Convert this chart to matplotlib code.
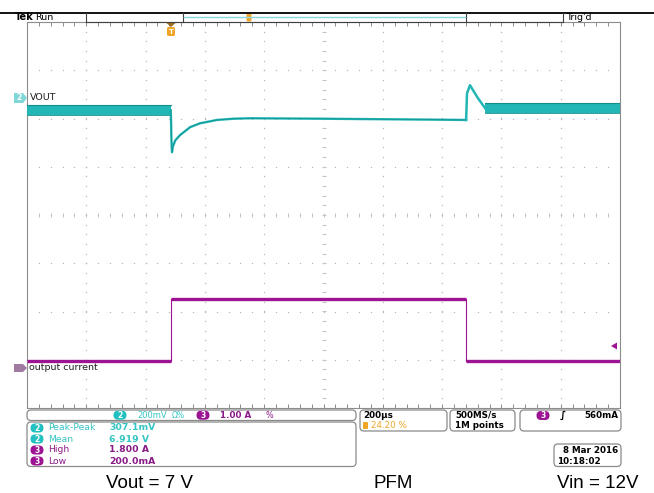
import numpy as np
import matplotlib
matplotlib.use("Agg")
import matplotlib.pyplot as plt
from matplotlib.patches import FancyBboxPatch, Polygon

# -----------------------------
# Scope settings / data
# -----------------------------
t_span = 2000.0          # 200 us/div, 10 div
n_vdiv = 8

# channel 2 : VOUT, 200 mV/div
ch2_scale = 0.2
ch2_ref_volts = 7.0
ch2_ref_div = 2.42

vout_pre_t = [0, 485]
vout_pre_v = [6.950, 6.950]
vout_ripple = 0.021
vout_dip_t = [485, 486, 487, 489, 492, 500, 516, 550, 583, 641, 695, 752, 1000, 1300, 1481]
vout_dip_v = [6.950, 6.900, 6.830, 6.776, 6.800, 6.825, 6.847, 6.880, 6.896, 6.910, 6.915, 6.917, 6.915, 6.912, 6.910]
vout_spike_t = [1481, 1484, 1494, 1521, 1545]
vout_spike_v = [6.910, 7.020, 7.054, 7.000, 6.959]
vout_post_t = [1545, 2000]
vout_post_v = [6.959, 6.959]

# channel 3 : output current, 1.00 A/div
ch3_scale = 1.0
ch3_ref_div = -3.17
iout_bounds = [0, 486, 1481, 2000]
iout_levels = [0.15, 1.43, 0.15]

trig_pos = 484          # 24.20 %

meas_names = ["Peak-Peak", "Mean", "High", "Low"]
meas_values = ["307.1mV", "6.919 V", "1.800 A", "200.0mA"]
meas_chan = ["2", "2", "3", "3"]

captions = ["Vout = 7 V", "PFM", "Vin = 12V"]

CYAN = "#22b6b6"
CYAN_DK = "#128e8e"
CYAN_TXT = "#35c4c4"
PURPLE = "#9c1394"
PURPLE_TXT = "#8a1a88"
ORANGE = "#f0a529"
GRID = "#b8b8b8"
EDGE = "#8c8c8c"


def v2div(v):
    return ch2_ref_div + (np.asarray(v) - ch2_ref_volts) / ch2_scale


def a2div(a):
    return ch3_ref_div + np.asarray(a) / ch3_scale


W, H = 654, 493
fig = plt.figure(figsize=(W / 100, H / 100), dpi=100)

# graticule area in pixels
gx0, gx1, gy0, gy1 = 27, 620, 22, 408
ax = fig.add_axes([gx0 / W, 1 - gy1 / H, (gx1 - gx0) / W, (gy1 - gy0) / H])
ax.set_xlim(0, t_span)
ax.set_ylim(-n_vdiv / 2, n_vdiv / 2)
ax.set_xticks([])
ax.set_yticks([])
for s in ax.spines.values():
    s.set_color(EDGE)
    s.set_linewidth(0.8)

# dotted grid
dx = t_span / 50
dy = 0.2
for k in range(1, 10):
    ys = np.arange(-4, 4.001, dy)
    ax.plot(np.full_like(ys, k * 200), ys, ls="none", marker="s", ms=0.9,
            color=GRID, mew=0)
for j in range(-3, 4):
    xs = np.arange(0, t_span + 1, dx)
    ax.plot(xs, np.full_like(xs, j), ls="none", marker="s", ms=0.9,
            color=GRID, mew=0)
# centre cross ticks
xs = np.arange(0, t_span + 1, dx)
ax.plot(xs, np.zeros_like(xs), ls="none", marker="|", ms=3, color="#c4c4c4", mew=0.7)
ys = np.arange(-4, 4.001, dy)
ax.plot(np.full_like(ys, 1000), ys, ls="none", marker="_", ms=3, color="#c4c4c4", mew=0.7)
# border ticks
ax.plot(np.zeros_like(ys), ys, ls="none", marker=0, ms=3, color=EDGE, mew=0.7)
ax.plot(np.full_like(ys, t_span), ys, ls="none", marker=1, ms=3, color=EDGE, mew=0.7)
ax.plot(xs, np.full_like(xs, -4), ls="none", marker=2, ms=3, color=EDGE, mew=0.7)
ax.plot(xs, np.full_like(xs, 4), ls="none", marker=3, ms=3, color=EDGE, mew=0.7)

# channel 2 trace
for tt, vv in [(vout_pre_t, vout_pre_v), (vout_post_t, vout_post_v)]:
    c = v2div(vv)
    ax.fill_between(tt, c - vout_ripple / ch2_scale, c + vout_ripple / ch2_scale,
                    color=CYAN, lw=0, zorder=3)
    ax.plot(tt, c + vout_ripple / ch2_scale, color=CYAN_DK, lw=0.8, zorder=3)
    ax.plot(tt, c - vout_ripple / ch2_scale, color=CYAN_DK, lw=0.6, zorder=3)
ax.plot(vout_dip_t, v2div(vout_dip_v), color=CYAN, lw=1.7, zorder=3)
ax.plot(vout_dip_t, v2div(vout_dip_v), color=CYAN_DK, lw=0.5, zorder=3)
ax.plot(vout_spike_t, v2div(vout_spike_v), color=CYAN, lw=1.8, zorder=3)

# channel 3 trace
for i, lvl in enumerate(iout_levels):
    ax.plot(iout_bounds[i:i + 2], a2div([lvl, lvl]), color=PURPLE, lw=2.4,
            solid_capstyle="butt", zorder=3)
for i in range(1, len(iout_levels)):
    ax.plot([iout_bounds[i]] * 2, a2div([iout_levels[i - 1], iout_levels[i]]),
            color=PURPLE, lw=0.8, zorder=3)

# -----------------------------
# Decorations in pixel space
# -----------------------------
d = fig.add_axes([0, 0, 1, 1], zorder=5)
d.set_xlim(0, W)
d.set_ylim(H, 0)
d.axis("off")
d.patch.set_alpha(0)

FS = 6.3
d.plot([0, W], [13, 13], color="black", lw=1.3)
d.text(15, 17.5, "Tek", fontsize=7, fontweight="bold", va="center")
d.text(35, 17.5, "Run", fontsize=6.8, va="center")
d.plot([86, 563], [22, 22], color="#404040", lw=0.8)
for xx in [86, 183, 466, 563]:
    d.plot([xx, xx], [12.5, 22], color="#404040", lw=0.8)
d.plot([184, 465], [17, 17], color="#8ad6de", lw=1.0)
d.text(566, 17.5, "Trig'd", fontsize=6.8, va="center")
d.add_patch(FancyBboxPatch((246.5, 13.5), 5, 8, boxstyle="round,pad=0,rounding_size=1.5",
                           fc=ORANGE, ec="none"))
# trigger position marker
d.add_patch(Polygon([[166.5, 23], [175.5, 23], [171, 27]], closed=True, fc="#9a6a20", ec="none"))
d.add_patch(FancyBboxPatch((167, 27), 8, 9, boxstyle="round,pad=0,rounding_size=1.5",
                           fc=ORANGE, ec="none"))
d.text(171, 31.5, "T", fontsize=5, color="white", ha="center", va="center", fontweight="bold")

# channel markers
d.add_patch(Polygon([[14, 93], [23, 93], [27, 98], [23, 103], [14, 103]], closed=True,
                    fc="#7fd7d7", ec="none"))
d.text(19, 98, "2", fontsize=5.5, color="white", ha="center", va="center", fontweight="bold")
d.text(30, 97.5, "VOUT", fontsize=6.8, va="center", color="#202020")
d.add_patch(Polygon([[14, 364], [23, 364], [27, 368], [23, 372], [14, 372]], closed=True,
                    fc="#a07aa0", ec="none"))
d.text(29, 368, "output current", fontsize=6.8, va="center", color="#202020")
d.add_patch(Polygon([[611, 346], [617, 342.5], [617, 349.5]], closed=True, fc=PURPLE, ec="none"))


def pill(x, y, label, fc):
    d.add_patch(FancyBboxPatch((x - 6.5, y - 4.5), 13, 9, boxstyle="round,pad=0,rounding_size=4.5",
                               fc=fc, ec="none"))
    d.text(x, y + 0.3, label, fontsize=5.5, color="white", ha="center", va="center",
           fontweight="bold")


def box(x0, y0, x1, y1):
    d.add_patch(FancyBboxPatch((x0, y0), x1 - x0, y1 - y0,
                               boxstyle="round,pad=0,rounding_size=4",
                               fc="white", ec="#8a8a8a", lw=0.9))


# header strip
box(27, 410, 356, 420.5)
pill(120, 415.2, "2", "#22c0c0")
d.text(137, 415.2, "200mV", fontsize=FS - 0.3, color=CYAN_TXT, va="center")
d.text(172, 415.2, "Ω%", fontsize=FS - 0.8, color=CYAN_TXT, va="center")
pill(203, 415.2, "3", PURPLE)
d.text(220, 415.2, "1.00 A", fontsize=FS, color=PURPLE_TXT, va="center", fontweight="bold")
d.text(266, 415.2, "%", fontsize=FS - 0.5, color=PURPLE_TXT, va="center")

# measurements
box(27, 422, 356, 466.5)
meas_y = [428, 439, 450, 461]
for name, val, ch, yy in zip(meas_names, meas_values, meas_chan, meas_y):
    col = CYAN_TXT if ch == "2" else PURPLE_TXT
    pill(37, yy, ch, "#22c0c0" if ch == "2" else PURPLE)
    d.text(48, yy, name, fontsize=FS + 0.4, color=col, va="center")
    d.text(109, yy, val, fontsize=FS + 0.4, color=col, va="center", fontweight="bold")

# timebase boxes
box(360, 410, 447, 431)
d.text(363, 415.5, "200µs", fontsize=FS, va="center", fontweight="bold")
d.add_patch(FancyBboxPatch((363, 422), 5, 7, boxstyle="round,pad=0,rounding_size=1",
                           fc=ORANGE, ec="none"))
d.text(371, 425.8, "%.2f %%" % (100 * trig_pos / t_span), fontsize=FS, color=ORANGE,
       va="center")
box(450, 410, 515, 431)
d.text(455, 415.5, "500MS/s", fontsize=FS, va="center", fontweight="bold")
d.text(455, 425.8, "1M points", fontsize=FS, va="center", fontweight="bold")
box(520, 410, 621, 431)
pill(543, 415.5, "3", PURPLE)
d.text(560, 415.5, "∫", fontsize=FS + 1, va="center", fontweight="bold")
d.text(618, 415.5, "560mA", fontsize=FS, va="center", ha="right", fontweight="bold")
box(554, 444, 621, 466.5)
d.text(618, 450.5, "8 Mar 2016", fontsize=FS, va="center", ha="right", fontweight="bold")
d.text(557, 461, "10:18:02", fontsize=FS, va="center", fontweight="bold")

# captions under the screenshot
cap_fam = ["Liberation Sans Narrow", "Liberation Sans", "DejaVu Sans"]
for txt, cx in zip(captions, [150, 393, 598]):
    d.text(cx, 483, txt, fontsize=13.5, ha="center", va="center", family=cap_fam)

fig.savefig("out.png", dpi=100)
